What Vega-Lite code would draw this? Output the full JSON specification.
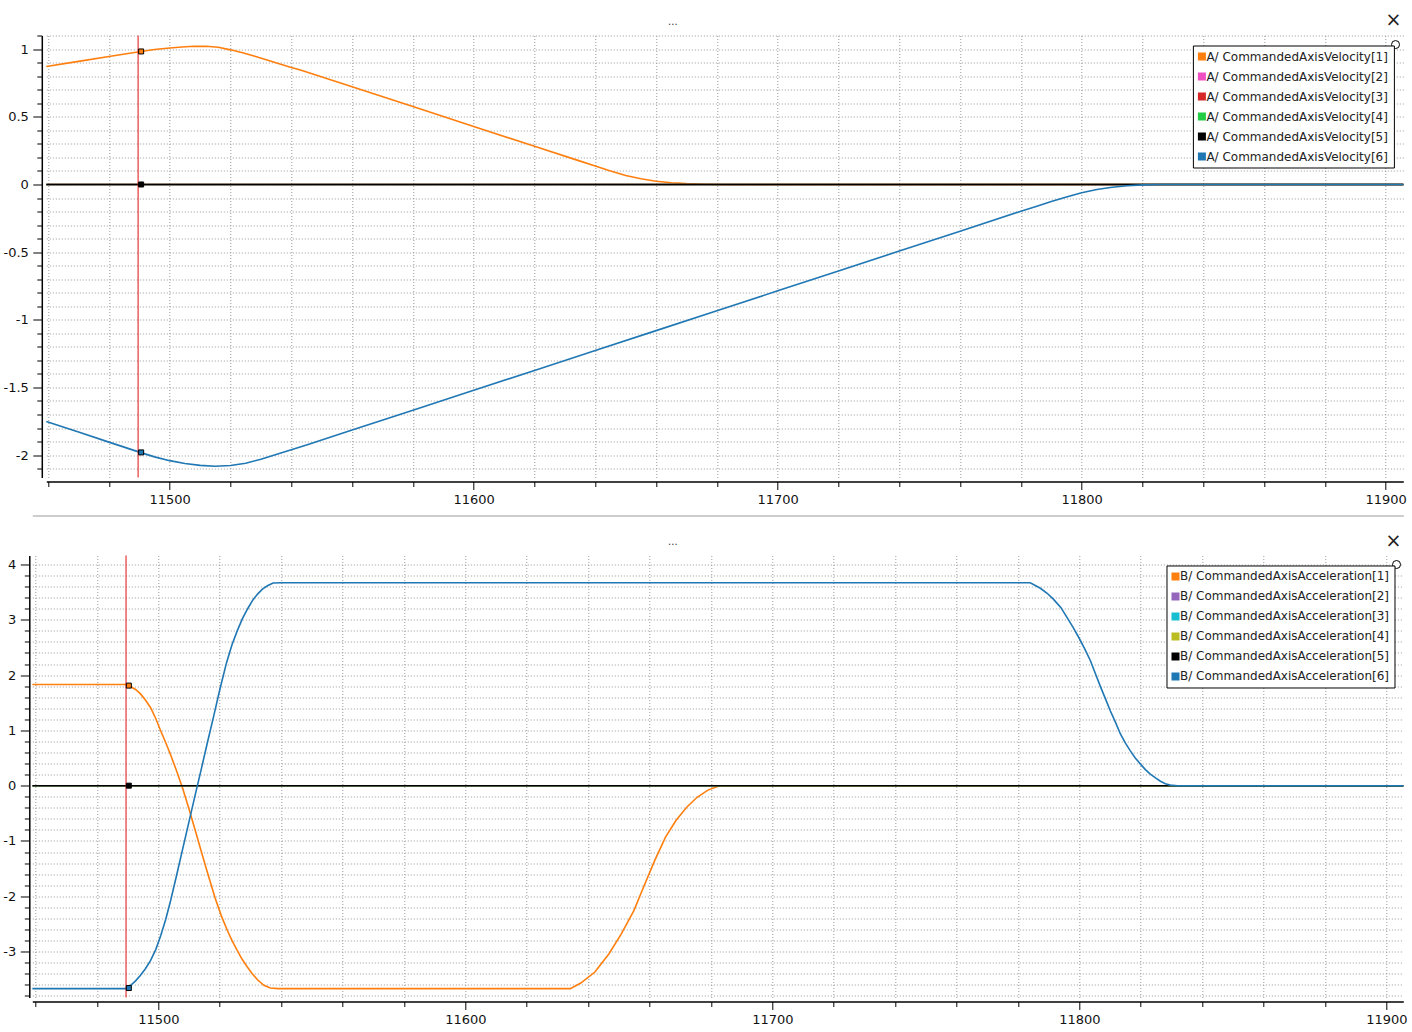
{
"$schema": "https://vega.github.io/schema/vega-lite/v6.json",
"background": "white",
"padding": {"left": 2.3, "top": 10.5, "right": 0, "bottom": 0},
"spacing": 9,
"resolve": {"scale": {"color": "independent", "strokeWidth": "independent"}, "legend": {"color": "independent", "strokeWidth": "independent"}},
"config": {"view": {"stroke": null}, "font": "DejaVu Sans"},
"datasets": {
"topLines": [
{"s":"A/ CommandedAxisVelocity[1]","t":11459.4,"v":0.872},
{"s":"A/ CommandedAxisVelocity[1]","t":11470,"v":0.910},
{"s":"A/ CommandedAxisVelocity[1]","t":11480,"v":0.946},
{"s":"A/ CommandedAxisVelocity[1]","t":11490,"v":0.981},
{"s":"A/ CommandedAxisVelocity[1]","t":11495,"v":0.997},
{"s":"A/ CommandedAxisVelocity[1]","t":11500,"v":1.009},
{"s":"A/ CommandedAxisVelocity[1]","t":11504,"v":1.016},
{"s":"A/ CommandedAxisVelocity[1]","t":11508,"v":1.021},
{"s":"A/ CommandedAxisVelocity[1]","t":11512,"v":1.021},
{"s":"A/ CommandedAxisVelocity[1]","t":11516,"v":1.014},
{"s":"A/ CommandedAxisVelocity[1]","t":11520,"v":0.995},
{"s":"A/ CommandedAxisVelocity[1]","t":11524,"v":0.973},
{"s":"A/ CommandedAxisVelocity[1]","t":11528,"v":0.947},
{"s":"A/ CommandedAxisVelocity[1]","t":11532,"v":0.920},
{"s":"A/ CommandedAxisVelocity[1]","t":11536,"v":0.892},
{"s":"A/ CommandedAxisVelocity[1]","t":11540,"v":0.865},
{"s":"A/ CommandedAxisVelocity[1]","t":11543,"v":0.846},
{"s":"A/ CommandedAxisVelocity[1]","t":11560,"v":0.723},
{"s":"A/ CommandedAxisVelocity[1]","t":11580,"v":0.576},
{"s":"A/ CommandedAxisVelocity[1]","t":11600,"v":0.429},
{"s":"A/ CommandedAxisVelocity[1]","t":11620,"v":0.282},
{"s":"A/ CommandedAxisVelocity[1]","t":11634,"v":0.180},
{"s":"A/ CommandedAxisVelocity[1]","t":11640,"v":0.136},
{"s":"A/ CommandedAxisVelocity[1]","t":11645,"v":0.100},
{"s":"A/ CommandedAxisVelocity[1]","t":11650,"v":0.067},
{"s":"A/ CommandedAxisVelocity[1]","t":11655,"v":0.042},
{"s":"A/ CommandedAxisVelocity[1]","t":11660,"v":0.024},
{"s":"A/ CommandedAxisVelocity[1]","t":11665,"v":0.013},
{"s":"A/ CommandedAxisVelocity[1]","t":11670,"v":0.006},
{"s":"A/ CommandedAxisVelocity[1]","t":11676,"v":0.002},
{"s":"A/ CommandedAxisVelocity[1]","t":11682,"v":0},
{"s":"A/ CommandedAxisVelocity[1]","t":11905.8,"v":0},
{"s":"A/ CommandedAxisVelocity[2]","t":11459.4,"v":0},
{"s":"A/ CommandedAxisVelocity[2]","t":11905.8,"v":0},
{"s":"A/ CommandedAxisVelocity[3]","t":11459.4,"v":0},
{"s":"A/ CommandedAxisVelocity[3]","t":11905.8,"v":0},
{"s":"A/ CommandedAxisVelocity[4]","t":11459.4,"v":0},
{"s":"A/ CommandedAxisVelocity[4]","t":11905.8,"v":0},
{"s":"A/ CommandedAxisVelocity[5]","t":11459.4,"v":0},
{"s":"A/ CommandedAxisVelocity[5]","t":11905.8,"v":0},
{"s":"A/ CommandedAxisVelocity[6]","t":11459.4,"v":-1.752},
{"s":"A/ CommandedAxisVelocity[6]","t":11470,"v":-1.830},
{"s":"A/ CommandedAxisVelocity[6]","t":11480,"v":-1.904},
{"s":"A/ CommandedAxisVelocity[6]","t":11490,"v":-1.978},
{"s":"A/ CommandedAxisVelocity[6]","t":11495,"v":-2.013},
{"s":"A/ CommandedAxisVelocity[6]","t":11500,"v":-2.041},
{"s":"A/ CommandedAxisVelocity[6]","t":11505,"v":-2.062},
{"s":"A/ CommandedAxisVelocity[6]","t":11510,"v":-2.076},
{"s":"A/ CommandedAxisVelocity[6]","t":11515,"v":-2.082},
{"s":"A/ CommandedAxisVelocity[6]","t":11520,"v":-2.077},
{"s":"A/ CommandedAxisVelocity[6]","t":11525,"v":-2.060},
{"s":"A/ CommandedAxisVelocity[6]","t":11530,"v":-2.030},
{"s":"A/ CommandedAxisVelocity[6]","t":11535,"v":-1.995},
{"s":"A/ CommandedAxisVelocity[6]","t":11540,"v":-1.960},
{"s":"A/ CommandedAxisVelocity[6]","t":11545,"v":-1.925},
{"s":"A/ CommandedAxisVelocity[6]","t":11560,"v":-1.815},
{"s":"A/ CommandedAxisVelocity[6]","t":11580,"v":-1.668},
{"s":"A/ CommandedAxisVelocity[6]","t":11600,"v":-1.521},
{"s":"A/ CommandedAxisVelocity[6]","t":11620,"v":-1.374},
{"s":"A/ CommandedAxisVelocity[6]","t":11640,"v":-1.227},
{"s":"A/ CommandedAxisVelocity[6]","t":11660,"v":-1.080},
{"s":"A/ CommandedAxisVelocity[6]","t":11680,"v":-0.933},
{"s":"A/ CommandedAxisVelocity[6]","t":11700,"v":-0.786},
{"s":"A/ CommandedAxisVelocity[6]","t":11720,"v":-0.639},
{"s":"A/ CommandedAxisVelocity[6]","t":11740,"v":-0.492},
{"s":"A/ CommandedAxisVelocity[6]","t":11760,"v":-0.345},
{"s":"A/ CommandedAxisVelocity[6]","t":11780,"v":-0.198},
{"s":"A/ CommandedAxisVelocity[6]","t":11785,"v":-0.162},
{"s":"A/ CommandedAxisVelocity[6]","t":11790,"v":-0.126},
{"s":"A/ CommandedAxisVelocity[6]","t":11795,"v":-0.092},
{"s":"A/ CommandedAxisVelocity[6]","t":11800,"v":-0.061},
{"s":"A/ CommandedAxisVelocity[6]","t":11805,"v":-0.037},
{"s":"A/ CommandedAxisVelocity[6]","t":11810,"v":-0.020},
{"s":"A/ CommandedAxisVelocity[6]","t":11815,"v":-0.009},
{"s":"A/ CommandedAxisVelocity[6]","t":11820,"v":-0.003},
{"s":"A/ CommandedAxisVelocity[6]","t":11826,"v":0},
{"s":"A/ CommandedAxisVelocity[6]","t":11905.8,"v":0}
],
"topCursor": [{"t": 11489.6}],
"topMarkers": [
{"s":"A/ CommandedAxisVelocity[1]","t":11490.6,"v":0.983},
{"s":"A/ CommandedAxisVelocity[5]","t":11490.6,"v":0},
{"s":"A/ CommandedAxisVelocity[6]","t":11490.6,"v":-1.98}
],
"bottomLines": [
{"s":"B/ CommandedAxisAcceleration[1]","t":11459,"v":1.83},
{"s":"B/ CommandedAxisAcceleration[1]","t":11489.3,"v":1.83},
{"s":"B/ CommandedAxisAcceleration[1]","t":11491,"v":1.79},
{"s":"B/ CommandedAxisAcceleration[1]","t":11492.6,"v":1.74},
{"s":"B/ CommandedAxisAcceleration[1]","t":11494.2,"v":1.66},
{"s":"B/ CommandedAxisAcceleration[1]","t":11495.8,"v":1.55},
{"s":"B/ CommandedAxisAcceleration[1]","t":11497.5,"v":1.41},
{"s":"B/ CommandedAxisAcceleration[1]","t":11499.2,"v":1.21},
{"s":"B/ CommandedAxisAcceleration[1]","t":11500.8,"v":0.99},
{"s":"B/ CommandedAxisAcceleration[1]","t":11502.4,"v":0.78},
{"s":"B/ CommandedAxisAcceleration[1]","t":11504,"v":0.56},
{"s":"B/ CommandedAxisAcceleration[1]","t":11506,"v":0.26},
{"s":"B/ CommandedAxisAcceleration[1]","t":11508,"v":-0.06},
{"s":"B/ CommandedAxisAcceleration[1]","t":11510,"v":-0.42},
{"s":"B/ CommandedAxisAcceleration[1]","t":11512,"v":-0.80},
{"s":"B/ CommandedAxisAcceleration[1]","t":11514,"v":-1.19},
{"s":"B/ CommandedAxisAcceleration[1]","t":11516,"v":-1.57},
{"s":"B/ CommandedAxisAcceleration[1]","t":11518.5,"v":-2.03},
{"s":"B/ CommandedAxisAcceleration[1]","t":11520.5,"v":-2.35},
{"s":"B/ CommandedAxisAcceleration[1]","t":11522.5,"v":-2.62},
{"s":"B/ CommandedAxisAcceleration[1]","t":11524.1,"v":-2.81},
{"s":"B/ CommandedAxisAcceleration[1]","t":11525.7,"v":-2.98},
{"s":"B/ CommandedAxisAcceleration[1]","t":11527.3,"v":-3.14},
{"s":"B/ CommandedAxisAcceleration[1]","t":11529,"v":-3.28},
{"s":"B/ CommandedAxisAcceleration[1]","t":11530.6,"v":-3.40},
{"s":"B/ CommandedAxisAcceleration[1]","t":11532.3,"v":-3.51},
{"s":"B/ CommandedAxisAcceleration[1]","t":11534.4,"v":-3.61},
{"s":"B/ CommandedAxisAcceleration[1]","t":11536.5,"v":-3.66},
{"s":"B/ CommandedAxisAcceleration[1]","t":11539,"v":-3.67},
{"s":"B/ CommandedAxisAcceleration[1]","t":11634.2,"v":-3.67},
{"s":"B/ CommandedAxisAcceleration[1]","t":11637.6,"v":-3.57},
{"s":"B/ CommandedAxisAcceleration[1]","t":11642.2,"v":-3.37},
{"s":"B/ CommandedAxisAcceleration[1]","t":11646.8,"v":-3.04},
{"s":"B/ CommandedAxisAcceleration[1]","t":11650.8,"v":-2.68},
{"s":"B/ CommandedAxisAcceleration[1]","t":11654.9,"v":-2.26},
{"s":"B/ CommandedAxisAcceleration[1]","t":11658.3,"v":-1.80},
{"s":"B/ CommandedAxisAcceleration[1]","t":11661.7,"v":-1.35},
{"s":"B/ CommandedAxisAcceleration[1]","t":11665.2,"v":-0.93},
{"s":"B/ CommandedAxisAcceleration[1]","t":11668.6,"v":-0.63},
{"s":"B/ CommandedAxisAcceleration[1]","t":11672.1,"v":-0.39},
{"s":"B/ CommandedAxisAcceleration[1]","t":11675.5,"v":-0.21},
{"s":"B/ CommandedAxisAcceleration[1]","t":11679,"v":-0.08},
{"s":"B/ CommandedAxisAcceleration[1]","t":11682.4,"v":-0.01},
{"s":"B/ CommandedAxisAcceleration[1]","t":11685,"v":0},
{"s":"B/ CommandedAxisAcceleration[1]","t":11905.5,"v":0},
{"s":"B/ CommandedAxisAcceleration[2]","t":11459,"v":0},
{"s":"B/ CommandedAxisAcceleration[2]","t":11905.5,"v":0},
{"s":"B/ CommandedAxisAcceleration[3]","t":11459,"v":0},
{"s":"B/ CommandedAxisAcceleration[3]","t":11905.5,"v":0},
{"s":"B/ CommandedAxisAcceleration[4]","t":11459,"v":0},
{"s":"B/ CommandedAxisAcceleration[4]","t":11905.5,"v":0},
{"s":"B/ CommandedAxisAcceleration[5]","t":11459,"v":0},
{"s":"B/ CommandedAxisAcceleration[5]","t":11905.5,"v":0},
{"s":"B/ CommandedAxisAcceleration[6]","t":11459,"v":-3.67},
{"s":"B/ CommandedAxisAcceleration[6]","t":11489.3,"v":-3.67},
{"s":"B/ CommandedAxisAcceleration[6]","t":11491,"v":-3.61},
{"s":"B/ CommandedAxisAcceleration[6]","t":11492.6,"v":-3.53},
{"s":"B/ CommandedAxisAcceleration[6]","t":11494.2,"v":-3.43},
{"s":"B/ CommandedAxisAcceleration[6]","t":11495.8,"v":-3.31},
{"s":"B/ CommandedAxisAcceleration[6]","t":11497.5,"v":-3.16},
{"s":"B/ CommandedAxisAcceleration[6]","t":11499.2,"v":-2.96},
{"s":"B/ CommandedAxisAcceleration[6]","t":11500.8,"v":-2.71},
{"s":"B/ CommandedAxisAcceleration[6]","t":11502.4,"v":-2.42},
{"s":"B/ CommandedAxisAcceleration[6]","t":11504,"v":-2.08},
{"s":"B/ CommandedAxisAcceleration[6]","t":11506,"v":-1.61},
{"s":"B/ CommandedAxisAcceleration[6]","t":11508,"v":-1.13},
{"s":"B/ CommandedAxisAcceleration[6]","t":11510,"v":-0.65},
{"s":"B/ CommandedAxisAcceleration[6]","t":11512,"v":-0.17},
{"s":"B/ CommandedAxisAcceleration[6]","t":11514,"v":0.30},
{"s":"B/ CommandedAxisAcceleration[6]","t":11516,"v":0.78},
{"s":"B/ CommandedAxisAcceleration[6]","t":11518,"v":1.25},
{"s":"B/ CommandedAxisAcceleration[6]","t":11520,"v":1.73},
{"s":"B/ CommandedAxisAcceleration[6]","t":11522.2,"v":2.22},
{"s":"B/ CommandedAxisAcceleration[6]","t":11524,"v":2.55},
{"s":"B/ CommandedAxisAcceleration[6]","t":11525.7,"v":2.80},
{"s":"B/ CommandedAxisAcceleration[6]","t":11527.4,"v":3.02},
{"s":"B/ CommandedAxisAcceleration[6]","t":11529.1,"v":3.20},
{"s":"B/ CommandedAxisAcceleration[6]","t":11530.8,"v":3.36},
{"s":"B/ CommandedAxisAcceleration[6]","t":11532.4,"v":3.47},
{"s":"B/ CommandedAxisAcceleration[6]","t":11534,"v":3.56},
{"s":"B/ CommandedAxisAcceleration[6]","t":11535.7,"v":3.62},
{"s":"B/ CommandedAxisAcceleration[6]","t":11537.4,"v":3.665},
{"s":"B/ CommandedAxisAcceleration[6]","t":11540,"v":3.67},
{"s":"B/ CommandedAxisAcceleration[6]","t":11784,"v":3.67},
{"s":"B/ CommandedAxisAcceleration[6]","t":11787.3,"v":3.57},
{"s":"B/ CommandedAxisAcceleration[6]","t":11789.5,"v":3.48},
{"s":"B/ CommandedAxisAcceleration[6]","t":11791.6,"v":3.37},
{"s":"B/ CommandedAxisAcceleration[6]","t":11794,"v":3.22},
{"s":"B/ CommandedAxisAcceleration[6]","t":11796,"v":3.04},
{"s":"B/ CommandedAxisAcceleration[6]","t":11798,"v":2.86},
{"s":"B/ CommandedAxisAcceleration[6]","t":11799.8,"v":2.68},
{"s":"B/ CommandedAxisAcceleration[6]","t":11801.7,"v":2.48},
{"s":"B/ CommandedAxisAcceleration[6]","t":11803.6,"v":2.26},
{"s":"B/ CommandedAxisAcceleration[6]","t":11805.2,"v":2.03},
{"s":"B/ CommandedAxisAcceleration[6]","t":11806.8,"v":1.80},
{"s":"B/ CommandedAxisAcceleration[6]","t":11808.5,"v":1.57},
{"s":"B/ CommandedAxisAcceleration[6]","t":11810.1,"v":1.35},
{"s":"B/ CommandedAxisAcceleration[6]","t":11811.8,"v":1.14},
{"s":"B/ CommandedAxisAcceleration[6]","t":11813.4,"v":0.93},
{"s":"B/ CommandedAxisAcceleration[6]","t":11815,"v":0.77},
{"s":"B/ CommandedAxisAcceleration[6]","t":11816.6,"v":0.63},
{"s":"B/ CommandedAxisAcceleration[6]","t":11818.2,"v":0.50},
{"s":"B/ CommandedAxisAcceleration[6]","t":11819.9,"v":0.39},
{"s":"B/ CommandedAxisAcceleration[6]","t":11821.5,"v":0.29},
{"s":"B/ CommandedAxisAcceleration[6]","t":11823.1,"v":0.21},
{"s":"B/ CommandedAxisAcceleration[6]","t":11824.8,"v":0.14},
{"s":"B/ CommandedAxisAcceleration[6]","t":11826.4,"v":0.08},
{"s":"B/ CommandedAxisAcceleration[6]","t":11828,"v":0.035},
{"s":"B/ CommandedAxisAcceleration[6]","t":11829.6,"v":0.01},
{"s":"B/ CommandedAxisAcceleration[6]","t":11832,"v":0},
{"s":"B/ CommandedAxisAcceleration[6]","t":11905.5,"v":0}
],
"bottomCursor": [{"t": 11489.49}],
"bottomMarkers": [
{"s":"B/ CommandedAxisAcceleration[1]","t":11490.4,"v":1.81},
{"s":"B/ CommandedAxisAcceleration[5]","t":11490.4,"v":0},
{"s":"B/ CommandedAxisAcceleration[6]","t":11490.4,"v":-3.66}
]
},
"vconcat": [
{"hconcat": [
{"width": 13.9, "height": 442, "data": {"values": []}, "mark": {"type": "point", "opacity": 0}, "encoding": {}},
{
"width": 1357, "height": 442,
"title": {"text": "...", "fontSize": 10, "font": "DejaVu Sans", "fontWeight": "normal", "color": "#333", "anchor": "middle", "frame": "group", "dx": -52, "offset": -24, "baseline": "alphabetic"},
"resolve": {"axis": {"x": "independent", "y": "independent"}, "legend": {"color": "independent"}},
"layer": [
{"data": {"name": "topLines"}, "mark": {"type": "line", "interpolate": "linear"},
"encoding": {
"x": {"field": "t", "type": "quantitative", "scale": {"domain": [11459.4, 11905.8], "nice": false, "zero": false},
"axis": {"values": [11460,11480,11500,11520,11540,11560,11580,11600,11620,11640,11660,11680,11700,11720,11740,11760,11780,11800,11820,11840,11860,11880,11900],
"labelExpr": "datum.value % 100 === 0 ? toString(datum.value) : ''",
"tickSize": {"condition": {"test": "datum.value % 100 === 0", "value": 8}, "value": 5},
"grid": true, "gridColor": "#999", "gridDash": [1,2], "gridWidth": 1,
"domainColor": "#000", "domainWidth": 1.5, "tickColor": "#000", "tickWidth": 1,
"labelFont": "DejaVu Sans", "labelFontSize": 13, "labelColor": "#111", "labelPadding": 4,
"labelFlush": false, "labelOverlap": false, "labelBound": false, "offset": 4, "title": null}},
"y": {"field": "v", "type": "quantitative", "scale": {"domain": [-2.1655, 1.101], "nice": false, "zero": false},
"axis": {"values": [-2.1,-2,-1.9,-1.8,-1.7,-1.6,-1.5,-1.4,-1.3,-1.2,-1.1,-1,-0.9,-0.8,-0.7,-0.6,-0.5,-0.4,-0.3,-0.2,-0.1,0,0.1,0.2,0.3,0.4,0.5,0.6,0.7,0.8,0.9,1,1.1],
"labelExpr": "abs(datum.value*2 - round(datum.value*2)) < 0.001 ? toString(round(datum.value*2)/2) : ''",
"tickSize": {"condition": {"test": "abs(datum.value*2 - round(datum.value*2)) < 0.001", "value": 9}, "value": 5},
"grid": true, "gridColor": "#999", "gridDash": [1,2], "gridWidth": 1,
"domainColor": "#000", "domainWidth": 1.5, "tickColor": "#000", "tickWidth": 1,
"labelFont": "DejaVu Sans", "labelFontSize": 13, "labelColor": "#111", "labelPadding": 4.5,
"labelFlush": false, "labelOverlap": false, "labelBound": false, "offset": 4.5, "title": null}},
"color": {"field": "s", "type": "nominal", "scale": {"domain": ["A/ CommandedAxisVelocity[1]","A/ CommandedAxisVelocity[2]","A/ CommandedAxisVelocity[3]","A/ CommandedAxisVelocity[4]","A/ CommandedAxisVelocity[5]","A/ CommandedAxisVelocity[6]"], "range": ["#ff7f0e","#f04fc4","#d62728","#22cc44","#000000","#1f77b4"]}, "legend": null},
"strokeWidth": {"field": "s", "type": "ordinal", "scale": {"domain": ["A/ CommandedAxisVelocity[1]","A/ CommandedAxisVelocity[2]","A/ CommandedAxisVelocity[3]","A/ CommandedAxisVelocity[4]","A/ CommandedAxisVelocity[5]","A/ CommandedAxisVelocity[6]"], "range": [1.6,1.6,1.6,1.6,2,1.8]}, "legend": null}
}},
{"data": {"name": "topCursor"}, "mark": {"type": "rule", "color": "#e01010", "strokeWidth": 1},
"encoding": {"x": {"field": "t", "type": "quantitative", "scale": {"domain": [11459.4, 11905.8], "nice": false, "zero": false}, "axis": null}}},
{"data": {"name": "topMarkers"}, "mark": {"type": "point", "shape": "square", "filled": true, "size": 25, "opacity": 1},
"encoding": {
"x": {"field": "t", "type": "quantitative", "scale": {"domain": [11459.4, 11905.8], "nice": false, "zero": false}, "axis": null},
"y": {"field": "v", "type": "quantitative", "scale": {"domain": [-2.1655, 1.101], "nice": false, "zero": false}, "axis": null},
"color": {"field": "s", "type": "nominal", "scale": {"domain": ["A/ CommandedAxisVelocity[1]","A/ CommandedAxisVelocity[2]","A/ CommandedAxisVelocity[3]","A/ CommandedAxisVelocity[4]","A/ CommandedAxisVelocity[5]","A/ CommandedAxisVelocity[6]"], "range": ["#ff7f0e","#f04fc4","#d62728","#22cc44","#000000","#1f77b4"]},
"legend": {"title": null, "orient": "none", "legendX": 1146.6, "legendY": 10, "padding": 5, "strokeColor": "#000", "fillColor": "#fff", "symbolType": "square", "symbolSize": 64, "symbolStrokeWidth": 0, "symbolOpacity": 1, "symbolOffset": -2, "labelFont": "DejaVu Sans", "labelFontSize": 12, "labelColor": "#222", "labelOffset": -1.5, "rowPadding": 8, "labelLimit": 0, "cornerRadius": 0}}
}},
{"data": {"name": "topMarkers"}, "mark": {"type": "point", "shape": "square", "filled": false, "stroke": "#000", "strokeWidth": 1, "size": 25, "opacity": 1},
"encoding": {
"x": {"field": "t", "type": "quantitative", "scale": {"domain": [11459.4, 11905.8], "nice": false, "zero": false}, "axis": null},
"y": {"field": "v", "type": "quantitative", "scale": {"domain": [-2.1655, 1.101], "nice": false, "zero": false}, "axis": null}
}},
{"data": {"values": [{}]}, "mark": {"type": "text", "text": "×", "font": "DejaVu Sans", "fontSize": 19, "color": "#222", "align": "center", "baseline": "middle"},
"encoding": {
"x": {"datum": 11902.6, "type": "quantitative", "scale": {"domain": [11459.4, 11905.8], "nice": false, "zero": false}, "axis": null},
"y": {"datum": 1.212, "type": "quantitative", "scale": {"domain": [-2.1655, 1.101], "nice": false, "zero": false}, "axis": null}
}},
{"data": {"values": [{}]}, "mark": {"type": "point", "shape": "circle", "filled": true, "fill": "#fff", "stroke": "#000", "strokeWidth": 1, "size": 64, "opacity": 1},
"encoding": {
"x": {"datum": 11903.25, "type": "quantitative", "scale": {"domain": [11459.4, 11905.8], "nice": false, "zero": false}, "axis": null},
"y": {"datum": 1.034, "type": "quantitative", "scale": {"domain": [-2.1655, 1.101], "nice": false, "zero": false}, "axis": null}
}}
]
}
], "spacing": 0, "bounds": "flush"},
{
"width": 1371, "height": 442,
"title": {"text": "...", "fontSize": 10, "font": "DejaVu Sans", "fontWeight": "normal", "color": "#333", "anchor": "middle", "frame": "group", "dx": -45, "offset": -39.75, "baseline": "alphabetic"},
"resolve": {"axis": {"x": "independent", "y": "independent"}, "legend": {"color": "independent"}},
"layer": [
{"data": {"name": "bottomLines"}, "mark": {"type": "line", "interpolate": "linear"},
"encoding": {
"x": {"field": "t", "type": "quantitative", "scale": {"domain": [11458.96, 11905.5], "nice": false, "zero": false},
"axis": {"values": [11460,11480,11500,11520,11540,11560,11580,11600,11620,11640,11660,11680,11700,11720,11740,11760,11780,11800,11820,11840,11860,11880,11900],
"labelExpr": "datum.value % 100 === 0 ? toString(datum.value) : ''",
"tickSize": {"condition": {"test": "datum.value % 100 === 0", "value": 8}, "value": 5},
"grid": true, "gridColor": "#999", "gridDash": [1,2], "gridWidth": 1,
"domainColor": "#000", "domainWidth": 1.5, "tickColor": "#000", "tickWidth": 1,
"labelFont": "DejaVu Sans", "labelFontSize": 13, "labelColor": "#111", "labelPadding": 4,
"labelFlush": false, "labelOverlap": false, "labelBound": false, "offset": 4, "title": null}},
"y": {"field": "v", "type": "quantitative", "scale": {"domain": [-3.831, 4.163], "nice": false, "zero": false},
"axis": {"values": [-3.8,-3.6,-3.4,-3.2,-3,-2.8,-2.6,-2.4,-2.2,-2,-1.8,-1.6,-1.4,-1.2,-1,-0.8,-0.6,-0.4,-0.2,0,0.2,0.4,0.6,0.8,1,1.2,1.4,1.6,1.8,2,2.2,2.4,2.6,2.8,3,3.2,3.4,3.6,3.8,4],
"labelExpr": "abs(datum.value - round(datum.value)) < 0.001 ? toString(round(datum.value)) : ''",
"tickSize": {"condition": {"test": "abs(datum.value - round(datum.value)) < 0.001", "value": 9}, "value": 5},
"grid": true, "gridColor": "#999", "gridDash": [1,2], "gridWidth": 1,
"domainColor": "#000", "domainWidth": 1.5, "tickColor": "#000", "tickWidth": 1,
"labelFont": "DejaVu Sans", "labelFontSize": 13, "labelColor": "#111", "labelPadding": 4.5,
"labelFlush": false, "labelOverlap": false, "labelBound": false, "offset": 3, "title": null}},
"color": {"field": "s", "type": "nominal", "scale": {"domain": ["B/ CommandedAxisAcceleration[1]","B/ CommandedAxisAcceleration[2]","B/ CommandedAxisAcceleration[3]","B/ CommandedAxisAcceleration[4]","B/ CommandedAxisAcceleration[5]","B/ CommandedAxisAcceleration[6]"], "range": ["#ff7f0e","#9467bd","#17becf","#bcbd22","#000000","#1f77b4"]}, "legend": null},
"strokeWidth": {"field": "s", "type": "ordinal", "scale": {"domain": ["B/ CommandedAxisAcceleration[1]","B/ CommandedAxisAcceleration[2]","B/ CommandedAxisAcceleration[3]","B/ CommandedAxisAcceleration[4]","B/ CommandedAxisAcceleration[5]","B/ CommandedAxisAcceleration[6]"], "range": [1.6,1.6,1.6,1.6,2,1.8]}, "legend": null}
}},
{"data": {"name": "bottomCursor"}, "mark": {"type": "rule", "color": "#e01010", "strokeWidth": 1},
"encoding": {"x": {"field": "t", "type": "quantitative", "scale": {"domain": [11458.96, 11905.5], "nice": false, "zero": false},
"axis": {"orient": "top", "offset": 40, "domain": true, "domainColor": "#bdbdbd", "domainWidth": 1.5, "ticks": false, "labels": false, "grid": false, "title": null}}}},
{"data": {"name": "bottomMarkers"}, "mark": {"type": "point", "shape": "square", "filled": true, "size": 25, "opacity": 1},
"encoding": {
"x": {"field": "t", "type": "quantitative", "scale": {"domain": [11458.96, 11905.5], "nice": false, "zero": false}, "axis": null},
"y": {"field": "v", "type": "quantitative", "scale": {"domain": [-3.831, 4.163], "nice": false, "zero": false}, "axis": null},
"color": {"field": "s", "type": "nominal", "scale": {"domain": ["B/ CommandedAxisAcceleration[1]","B/ CommandedAxisAcceleration[2]","B/ CommandedAxisAcceleration[3]","B/ CommandedAxisAcceleration[4]","B/ CommandedAxisAcceleration[5]","B/ CommandedAxisAcceleration[6]"], "range": ["#ff7f0e","#9467bd","#17becf","#bcbd22","#000000","#1f77b4"]},
"legend": {"title": null, "orient": "none", "legendX": 1134.2, "legendY": 10, "padding": 5, "strokeColor": "#000", "fillColor": "#fff", "symbolType": "square", "symbolSize": 64, "symbolStrokeWidth": 0, "symbolOpacity": 1, "symbolOffset": -2, "labelFont": "DejaVu Sans", "labelFontSize": 12, "labelColor": "#222", "labelOffset": -1.5, "rowPadding": 8, "labelLimit": 0, "cornerRadius": 0}}
}},
{"data": {"name": "bottomMarkers"}, "mark": {"type": "point", "shape": "square", "filled": false, "stroke": "#000", "strokeWidth": 1, "size": 25, "opacity": 1},
"encoding": {
"x": {"field": "t", "type": "quantitative", "scale": {"domain": [11458.96, 11905.5], "nice": false, "zero": false}, "axis": null},
"y": {"field": "v", "type": "quantitative", "scale": {"domain": [-3.831, 4.163], "nice": false, "zero": false}, "axis": null}
}},
{"data": {"values": [{}]}, "mark": {"type": "text", "text": "×", "font": "DejaVu Sans", "fontSize": 19, "color": "#222", "align": "center", "baseline": "middle"},
"encoding": {
"x": {"datum": 11902.3, "type": "quantitative", "scale": {"domain": [11458.96, 11905.5], "nice": false, "zero": false}, "axis": null},
"y": {"datum": 4.434, "type": "quantitative", "scale": {"domain": [-3.831, 4.163], "nice": false, "zero": false}, "axis": null}
}},
{"data": {"values": [{}]}, "mark": {"type": "point", "shape": "circle", "filled": true, "fill": "#fff", "stroke": "#000", "strokeWidth": 1, "size": 64, "opacity": 1},
"encoding": {
"x": {"datum": 11903.3, "type": "quantitative", "scale": {"domain": [11458.96, 11905.5], "nice": false, "zero": false}, "axis": null},
"y": {"datum": 4.0, "type": "quantitative", "scale": {"domain": [-3.831, 4.163], "nice": false, "zero": false}, "axis": null}
}}
]
}
]
}
